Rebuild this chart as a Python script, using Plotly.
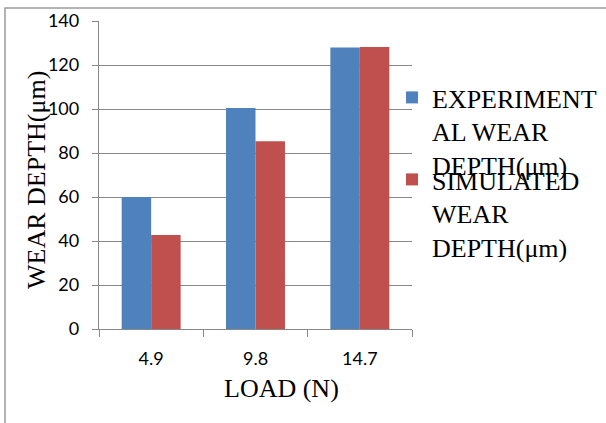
import plotly.graph_objects as go

loads = ["4.9", "9.8", "14.7"]
experimental = [60.0, 100.5, 128.0]
simulated = [42.7, 85.3, 128.2]
series_names = ["EXPERIMENT<br>AL WEAR<br>DEPTH(μm)", "SIMULATED<br>WEAR<br>DEPTH(μm)"]
y_ticks = [0, 20, 40, 60, 80, 100, 120, 140]

W, H = 606, 423
L, R, T, B = 99, 194, 21, 94
pw, ph = W - L - R, H - T - B

def px(x):
    return (x - L) / pw

def py(y):
    return (H - B - y) / ph

fig = go.Figure()
fig.add_trace(go.Bar(x=loads, y=experimental, name=series_names[0],
                     marker=dict(color="#4F81BD", line=dict(width=0)), legend="legend"))
fig.add_trace(go.Bar(x=loads, y=simulated, name=series_names[1],
                     marker=dict(color="#C0504D", line=dict(width=0)), legend="legend2"))

grid = "#888888"
serif = "Liberation Serif"
sans = "Lato"

fig.update_layout(
    width=W, height=H,
    margin=dict(l=L, r=R, t=T, b=B, autoexpand=False),
    paper_bgcolor="white", plot_bgcolor="white",
    barmode="group", bargap=0.435, bargroupgap=0,
    showlegend=True,
    legend=dict(x=px(392), y=py(74), xanchor="left", yanchor="top",
                font=dict(family=serif, size=26, color="black"),
                valign="top", bgcolor="rgba(0,0,0,0)", tracegroupgap=0),
    legend2=dict(x=px(392), y=py(156), xanchor="left", yanchor="top",
                 font=dict(family=serif, size=26, color="black"),
                 valign="top", bgcolor="rgba(0,0,0,0)", tracegroupgap=0),
    xaxis=dict(type="category", showgrid=False, showline=True, linecolor=grid, linewidth=1.3,
               ticks="outside", tickson="boundaries", ticklen=7, tickcolor=grid, tickwidth=1.3,
               tickfont=dict(family=sans, size=18, color="black"), ticklabelstandoff=13,
               zeroline=False),
    yaxis=dict(range=[0, 140], tickvals=y_ticks, showgrid=True, gridcolor=grid, gridwidth=1.3,
               showline=True, linecolor=grid, linewidth=1.3,
               ticks="outside", ticklen=6, tickcolor=grid, tickwidth=1.3,
               tickfont=dict(family=sans, size=18, color="black"), ticklabelstandoff=9,
               zeroline=False),
    annotations=[
        dict(text="LOAD (N)", xref="paper", yref="paper", x=px(281), y=py(388),
             xanchor="center", yanchor="middle", showarrow=False,
             font=dict(family=serif, size=26, color="black")),
        dict(text="WEAR DEPTH(μm)", xref="paper", yref="paper", x=px(37), y=py(180),
             xanchor="center", yanchor="middle", showarrow=False, textangle=-90,
             font=dict(family=serif, size=26, color="black")),
    ],
    shapes=[
        dict(type="rect", xref="paper", yref="paper", x0=px(5), x1=px(615), y0=py(435), y1=py(8),
             line=dict(color="#9a9a9a", width=1.5), fillcolor="rgba(0,0,0,0)", layer="below"),
    ],
)

fig.write_html("out.html")
